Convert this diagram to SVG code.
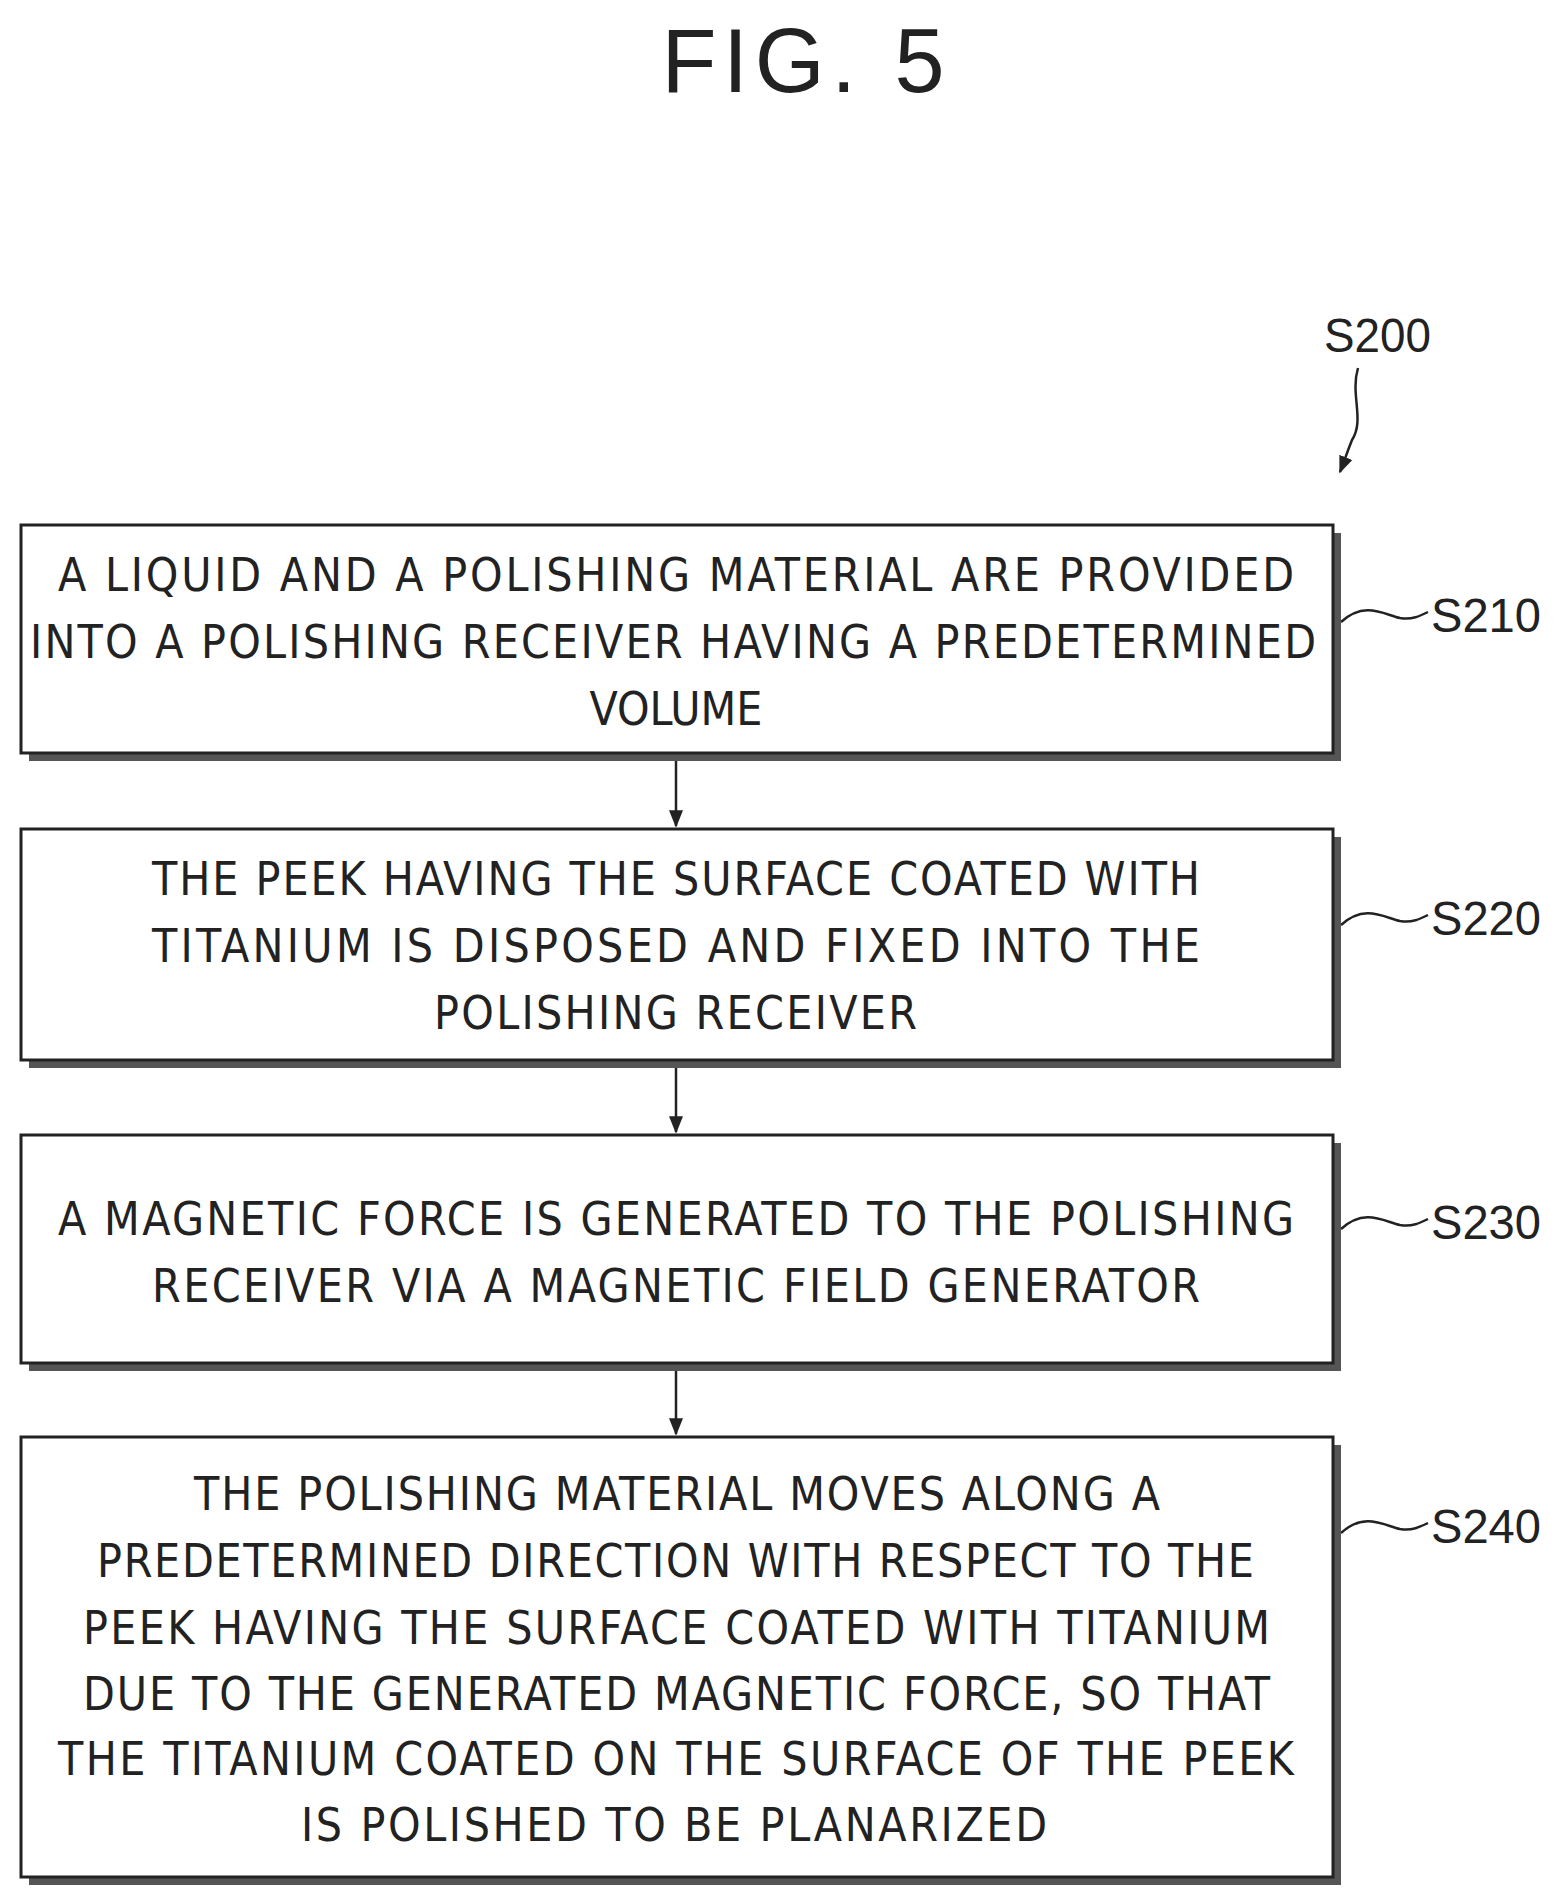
<svg xmlns="http://www.w3.org/2000/svg" width="1555" height="1899" viewBox="0 0 1555 1899">
<style>
.box{fill:#fff;stroke:#222;stroke-width:3}
.sh{fill:#555}
.t{font-family:"DejaVu Sans Condensed","Liberation Sans",sans-serif;font-size:46px;fill:#222;text-anchor:start}
.lb{font-family:"Liberation Sans",sans-serif;font-size:48px;fill:#222}
.c{fill:none;stroke:#222;stroke-width:2.5}
</style>
<defs><marker id="ah" viewBox="0 0 10 10" refX="9" refY="5" markerWidth="7" markerHeight="7" orient="auto"><path d="M0,1L10,5L0,9z" fill="#222"/></marker></defs>
<text x="803" y="92" font-family="Liberation Sans,sans-serif" font-size="90" fill="#222" text-anchor="middle" textLength="283" lengthAdjust="spacing">FIG. 5</text>
<g id="s200"><text class="lb" x="1324" y="352" textLength="107" lengthAdjust="spacingAndGlyphs">S200</text></g>
<g id="connectors">
<path class="c" d="M1358,368 C1350,395 1365,420 1352,440 C1346,455 1344,462 1340,472" marker-end="url(#ah)"/>
<path class="c" d="M676,753 L676,826" marker-end="url(#ah)"/>
<path class="c" d="M676,1060 L676,1132" marker-end="url(#ah)"/>
<path class="c" d="M676,1363 L676,1434" marker-end="url(#ah)"/>
<path class="c" d="M1341,622 C1365,600 1385,615 1400,618 C1412,620 1420,616 1428,612"/>
<path class="c" d="M1341,925 C1365,903 1385,918 1400,921 C1412,923 1420,919 1428,915"/>
<path class="c" d="M1341,1229 C1365,1207 1385,1222 1400,1225 C1412,1227 1420,1223 1428,1219"/>
<path class="c" d="M1341,1533 C1365,1511 1385,1526 1400,1529 C1412,1531 1420,1527 1428,1523"/>
</g>
<g id="s210">
<rect class="sh" x="29" y="533" width="1312" height="228"/><rect class="box" x="21" y="525" width="1312" height="228"/>
<text class="t" x="58" y="591" textLength="1236" lengthAdjust="spacing">A LIQUID AND A POLISHING MATERIAL ARE PROVIDED</text>
<text class="t" x="30" y="658" textLength="1286" lengthAdjust="spacing">INTO A POLISHING RECEIVER HAVING A PREDETERMINED</text>
<text class="t" x="676" y="725" text-anchor="middle" style="text-anchor:middle">VOLUME</text>
<text class="lb" x="1431" y="632" textLength="110" lengthAdjust="spacingAndGlyphs">S210</text>
</g>
<g id="s220">
<rect class="sh" x="29" y="837" width="1312" height="231"/><rect class="box" x="21" y="829" width="1312" height="231"/>
<text class="t" x="152" y="895" textLength="1048" lengthAdjust="spacing">THE PEEK HAVING THE SURFACE COATED WITH</text>
<text class="t" x="152" y="962" textLength="1048" lengthAdjust="spacing">TITANIUM IS DISPOSED AND FIXED INTO THE</text>
<text class="t" x="434" y="1029" textLength="483" lengthAdjust="spacing">POLISHING RECEIVER</text>
<text class="lb" x="1431" y="935" textLength="110" lengthAdjust="spacingAndGlyphs">S220</text>
</g>
<g id="s230">
<rect class="sh" x="29" y="1143" width="1312" height="228"/><rect class="box" x="21" y="1135" width="1312" height="228"/>
<text class="t" x="58" y="1235" textLength="1236" lengthAdjust="spacing">A MAGNETIC FORCE IS GENERATED TO THE POLISHING</text>
<text class="t" x="152" y="1302" textLength="1048" lengthAdjust="spacing">RECEIVER VIA A MAGNETIC FIELD GENERATOR</text>
<text class="lb" x="1431" y="1239" textLength="110" lengthAdjust="spacingAndGlyphs">S230</text>
</g>
<g id="s240">
<rect class="sh" x="29" y="1445" width="1312" height="440"/><rect class="box" x="21" y="1437" width="1312" height="440"/>
<text class="t" x="194" y="1510" textLength="966" lengthAdjust="spacing">THE POLISHING MATERIAL MOVES ALONG A</text>
<text class="t" x="97" y="1577" textLength="1157" lengthAdjust="spacing">PREDETERMINED DIRECTION WITH RESPECT TO THE</text>
<text class="t" x="83" y="1644" textLength="1187" lengthAdjust="spacing">PEEK HAVING THE SURFACE COATED WITH TITANIUM</text>
<text class="t" x="83" y="1710" textLength="1187" lengthAdjust="spacing">DUE TO THE GENERATED MAGNETIC FORCE, SO THAT</text>
<text class="t" x="58" y="1775" textLength="1236" lengthAdjust="spacing">THE TITANIUM COATED ON THE SURFACE OF THE PEEK</text>
<text class="t" x="301" y="1841" textLength="746" lengthAdjust="spacing">IS POLISHED TO BE PLANARIZED</text>
<text class="lb" x="1431" y="1543" textLength="110" lengthAdjust="spacingAndGlyphs">S240</text>
</g>
</svg>
